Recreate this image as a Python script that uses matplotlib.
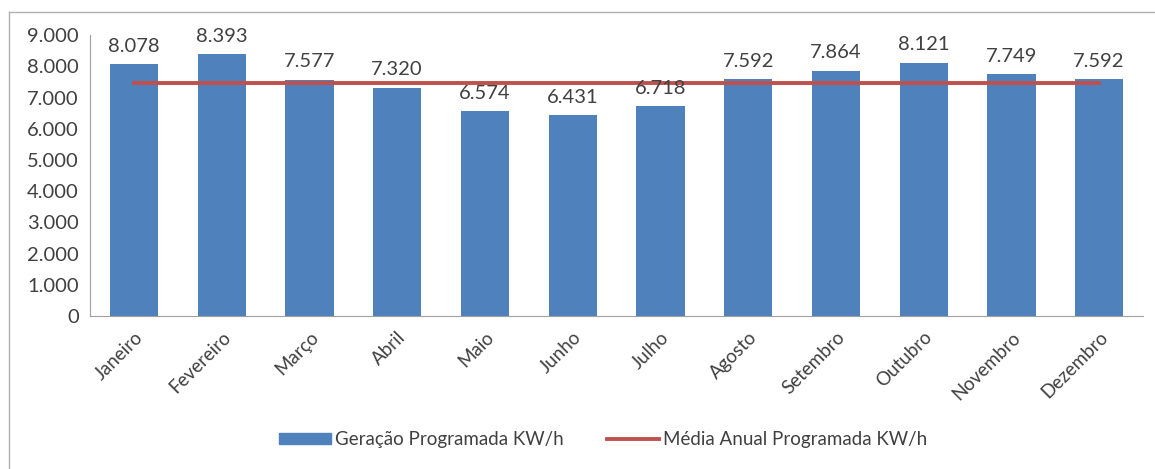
import matplotlib.pyplot as plt
from matplotlib.lines import Line2D
from matplotlib.patches import Patch

meses = ["Janeiro", "Fevereiro", "Março", "Abril", "Maio", "Junho",
         "Julho", "Agosto", "Setembro", "Outubro", "Novembro", "Dezembro"]
geracao = [8078, 8393, 7577, 7320, 6574, 6431, 6718, 7592, 7864, 8121, 7749, 7592]
media_anual = 7460
yticks = [0, 1000, 2000, 3000, 4000, 5000, 6000, 7000, 8000, 9000]

azul = "#4F81BD"
vermelho = "#C0504D"
texto = "#404040"

plt.rcParams["font.family"] = ["Lato", "DejaVu Sans"]

fig = plt.figure(figsize=(11.55, 4.69), dpi=100)
ax = fig.add_axes([0.078, 0.326, 0.9116, 0.599])

x = list(range(len(meses)))
ax.bar(x, geracao, width=0.55, color=azul, zorder=2)
ax.plot([x[0], x[-1]], [media_anual, media_anual], color=vermelho, lw=2.8, zorder=3)

for xi, v in zip(x, geracao):
    rot = f"{v / 1000:.3f}"
    ax.text(xi, v + 300, rot, ha="center", va="bottom", fontsize=14.5, color=texto)

ax.set_xlim(-0.5, len(meses) - 0.5)
ax.set_ylim(0, 9000)
ax.set_yticks(yticks)
ax.set_yticklabels(["0" if t == 0 else f"{t // 1000}.000" for t in yticks],
                   fontsize=14.5, color=texto)
ax.set_xticks(x)
ax.set_xticklabels(meses, rotation=45, ha="right", rotation_mode="anchor",
                   fontsize=13.5, color=texto)
ax.tick_params(axis="both", length=0, pad=8)
ax.tick_params(axis="x", pad=9)

for s in ["top", "right"]:
    ax.spines[s].set_visible(False)
ax.spines["left"].set_color("#A0A0A0")
ax.spines["bottom"].set_color("#A0A0A0")

# moldura do gráfico (só topo e esquerda visíveis no recorte)
fig.add_artist(Line2D([9 / 1155, 1.0], [1 - 12 / 469, 1 - 12 / 469],
                      color="#B0B0B0", lw=1, transform=fig.transFigure))
fig.add_artist(Line2D([9 / 1155, 9 / 1155], [0, 1 - 12 / 469],
                      color="#B0B0B0", lw=1, transform=fig.transFigure))

handles = [Patch(color=azul), Line2D([], [], color=vermelho, lw=2.8)]
fig.legend(handles, ["Geração Programada KW/h", "Média Anual Programada KW/h"],
           loc="center", bbox_to_anchor=(0.522, 0.063), ncol=2, frameon=False,
           fontsize=13.5, labelcolor=texto, handlelength=2.8, handleheight=0.55,
           handletextpad=0.2, columnspacing=2.3)

fig.savefig("out.png", dpi=100)
